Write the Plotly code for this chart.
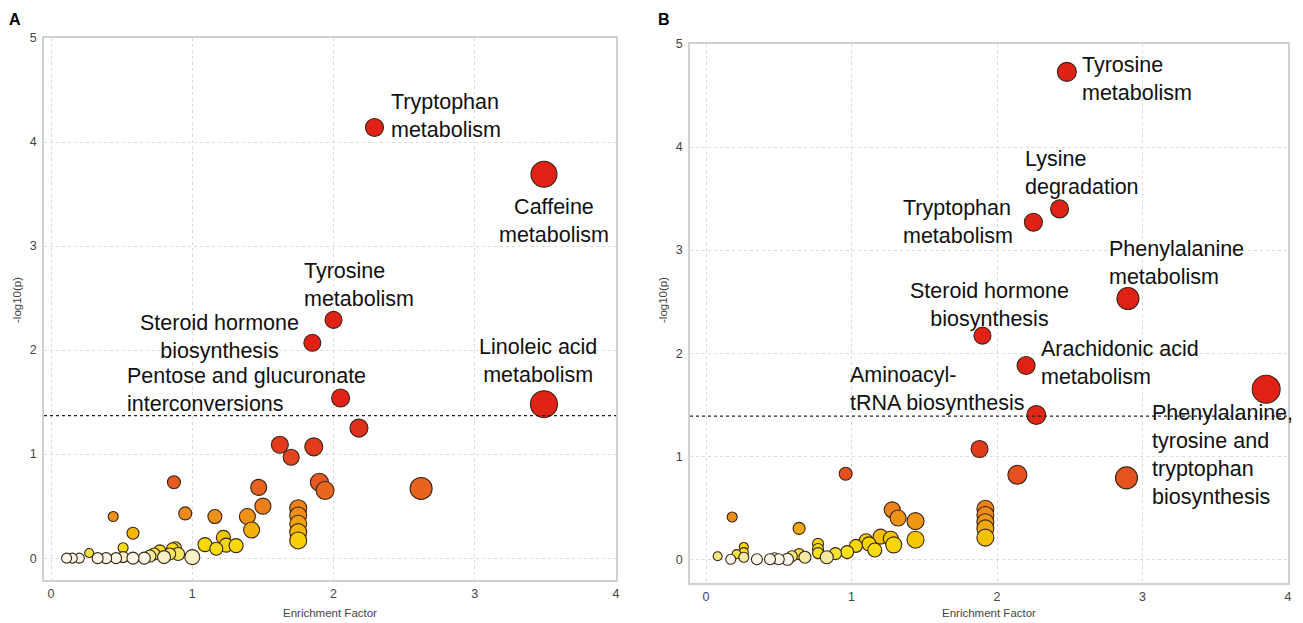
import numpy as np
import plotly.graph_objects as go

# ---------------- Panel A data ----------------
a_x = [2.29, 3.49, 2.00, 1.85, 2.05, 3.49,
       2.18, 1.62, 1.70, 1.86, 1.90, 1.94, 2.62, 0.87, 0.44, 0.58, 0.95, 1.16,
       1.47, 1.50, 1.39, 1.42, 1.75, 1.75, 1.75, 1.75, 1.75,
       1.09, 1.17, 1.22, 1.24, 1.31, 1.00, 0.90, 0.86, 0.84, 0.80, 0.73, 0.77,
       0.70, 0.88, 0.66, 0.58, 0.51, 0.51, 0.46, 0.39, 0.33, 0.27, 0.20, 0.15, 0.11]
a_y = [4.14, 3.69, 2.29, 2.07, 1.54, 1.48,
       1.25, 1.09, 0.97, 1.07, 0.73, 0.65, 0.67, 0.73, 0.40, 0.24, 0.43, 0.40,
       0.68, 0.50, 0.40, 0.27, 0.48, 0.41, 0.33, 0.25, 0.17,
       0.13, 0.09, 0.20, 0.125, 0.12, 0.01, 0.04, 0.09, 0.04, 0.01, 0.04, 0.07,
       0.02, 0.10, 0.00, 0.00, 0.10, 0.01, 0.00, 0.00, 0.00, 0.05, 0.00, 0.00, 0.00]
a_size = [18, 26, 17, 17, 18, 27,
          18, 17, 16, 18, 18, 18, 22, 13, 10, 12, 13, 14,
          16, 16, 16, 16, 17, 17, 17, 17, 17,
          14, 13, 14, 14, 14, 15, 13, 12, 12, 13, 12, 12,
          12, 12, 12, 12, 10, 11, 11, 11, 11, 9, 10, 10, 10]
a_labels = ["Tryptophan<br>metabolism", "Caffeine<br>metabolism",
            "Tyrosine<br>metabolism", "Steroid hormone<br>biosynthesis",
            "Pentose and glucuronate<br>interconversions",
            "Linoleic acid<br>metabolism"]
a_threshold = 1.37

# ---------------- Panel B data ----------------
b_x = [2.48, 2.43, 2.25, 2.90, 1.90, 2.20, 2.27, 3.85,
       1.88, 2.14, 2.89, 1.92, 1.92, 1.92, 1.92, 1.92, 0.96, 0.18, 0.64,
       1.28, 1.32, 1.44, 1.44, 1.29, 1.27, 1.20, 1.16, 1.12, 1.10, 1.03,
       0.97, 0.89, 0.83, 0.77, 0.77, 0.77, 0.68, 0.64, 0.59, 0.56, 0.50,
       0.47, 0.44, 0.35, 0.26, 0.26, 0.26, 0.21, 0.17, 0.08]
b_y = [4.73, 3.40, 3.27, 2.53, 2.17, 1.88, 1.40, 1.65,
       1.07, 0.82, 0.79, 0.49, 0.43, 0.36, 0.30, 0.21, 0.83, 0.41, 0.30,
       0.48, 0.40, 0.37, 0.19, 0.14, 0.20, 0.22, 0.09, 0.15, 0.18, 0.13,
       0.07, 0.055, 0.02, 0.15, 0.10, 0.06, 0.02, 0.05, 0.03, 0.00, 0.00,
       0.01, 0.00, 0.00, 0.12, 0.07, 0.02, 0.05, 0.00, 0.03]
b_size = [19, 18, 18, 22, 17, 18, 19, 28,
          17, 19, 22, 17, 17, 17, 17, 17, 13, 10, 12,
          16, 16, 17, 17, 16, 15, 15, 14, 14, 14, 13,
          13, 12, 13, 11, 11, 11, 12, 11, 11, 12, 11,
          11, 11, 11, 9, 9, 10, 9, 10, 9]
b_labels = ["Tyrosine<br>metabolism", "Lysine<br>degradation",
            "Tryptophan<br>metabolism", "Phenylalanine<br>metabolism",
            "Steroid hormone<br>biosynthesis", "Arachidonic acid<br>metabolism",
            "Aminoacyl-<br>tRNA biosynthesis",
            "Phenylalanine,<br>tyrosine and<br>tryptophan<br>biosynthesis"]
b_threshold = 1.39

x_ticks = [0, 1, 2, 3, 4]
y_ticks = [0, 1, 2, 3, 4, 5]

# ---------------- styling ----------------
W, H = 1303, 623
colorscale = [[0, '#fbf8ea'], [0.006, '#f6f0c8'], [0.02, '#f2e680'],
              [0.04, '#f6e21a'], [0.1, '#f7d400'], [0.16, '#f4b806'],
              [0.22, '#f0a010'], [0.3, '#ec861c'], [0.4, '#e8701e'],
              [0.5, '#e5561e'], [0.7, '#e23c1c'], [1, '#e02216']]

# label placement: (xanchor, align, xshift, yshift) in pixels relative to point
a_label_pos = [("left", "left", 15, 11), ("center", "center", 10, -47),
               ("left", "left", -32, 35), ("center", "center", -93, 6),
               ("left", "left", -216, 8), ("center", "center", -6, 43)]
b_label_pos = [("left", "left", 13, -7), ("left", "left", -37, 36),
               ("right", "left", -18, 0), ("left", "left", -21, 36),
               ("center", "center", 7, 31), ("left", "left", 13, 3),
               ("right", "left", -10, 26), ("left", "left", -116, -66)]

fig = go.Figure()


def add_panel(xs, ys, ss, xa, ya):
    xs, ys, ss = np.array(xs), np.array(ys), np.array(ss)
    order = np.argsort(-ys, kind="stable")
    fig.add_trace(go.Scatter(
        x=xs[order], y=ys[order], mode="markers", xaxis=xa, yaxis=ya,
        showlegend=False, hoverinfo="x+y",
        marker=dict(size=ss[order], color=ys[order], colorscale=colorscale,
                    cmin=0, cmax=1.5, opacity=1,
                    line=dict(color="#3a2418", width=1.1))))


add_panel(a_x, a_y, a_size, "x", "y")
add_panel(b_x, b_y, b_size, "x2", "y2")

axis_common = dict(showgrid=True, gridcolor="#dcdcdc", griddash="dot",
                   gridwidth=1, zeroline=False, showline=True,
                   linecolor="#d2d2d2", linewidth=1.5, mirror=True,
                   ticks="", tickfont=dict(family="Liberation Sans", size=12.5,
                                           color="#444"),
                   automargin=False, fixedrange=True)

fig.update_layout(
    template="none", width=W, height=H,
    margin=dict(l=0, r=0, t=0, b=0),
    paper_bgcolor="white", plot_bgcolor="white",
    xaxis=dict(domain=[44 / W, 616 / W], range=[-0.05, 4], anchor="y",
               tickvals=x_ticks, ticklabelstandoff=1, **axis_common),
    yaxis=dict(domain=[1 - 580 / H, 1 - 38 / H], range=[-0.21, 5], anchor="x",
               tickvals=y_ticks, ticklabelstandoff=3, **axis_common),
    xaxis2=dict(domain=[690 / W, 1288 / W], range=[-0.11, 4], anchor="y2",
                tickvals=x_ticks, ticklabelstandoff=1, **axis_common),
    yaxis2=dict(domain=[1 - 583 / H, 1 - 44 / H], range=[-0.23, 5], anchor="x2",
                tickvals=y_ticks, ticklabelstandoff=3, **axis_common),
)

# threshold lines
for xr, yr, th in [("x domain", "y", a_threshold), ("x2 domain", "y2", b_threshold)]:
    fig.add_shape(type="line", xref=xr, yref=yr, x0=0, x1=1, y0=th, y1=th,
                  line=dict(color="#222", width=1.2, dash="dot"), layer="above")

label_font = dict(family="Liberation Sans", size=21.5, color="#111")
for lbl, pos, px, py in zip(a_labels, a_label_pos, a_x, a_y):
    xanc, al, dx, dy = pos
    fig.add_annotation(x=px, y=py, xref="x", yref="y", text=lbl, showarrow=False,
                       xanchor=xanc, yanchor="middle", align=al, xshift=dx,
                       yshift=dy, font=label_font)
for lbl, pos, px, py in zip(b_labels, b_label_pos, b_x, b_y):
    xanc, al, dx, dy = pos
    fig.add_annotation(x=px, y=py, xref="x2", yref="y2", text=lbl, showarrow=False,
                       xanchor=xanc, yanchor="middle", align=al, xshift=dx,
                       yshift=dy, font=label_font)

# axis titles
title_font = dict(family="Liberation Sans", size=11.5, color="#444")
for xr in ["x domain", "x2 domain"]:
    fig.add_annotation(x=0.5, xref=xr, y=1 - 613 / H, yref="paper",
                       text="Enrichment Factor", showarrow=False,
                       xanchor="center", yanchor="middle", font=title_font)
for xp, yc in [(17, 300), (663, 300)]:
    fig.add_annotation(x=xp / W, xref="paper", y=1 - yc / H, yref="paper",
                       text="-log10(p)", showarrow=False, textangle=-90,
                       xanchor="center", yanchor="middle", font=title_font)

# panel letters
for txt, xp in [("A", 15), ("B", 664)]:
    fig.add_annotation(x=xp / W, xref="paper", y=1 - 20 / H, yref="paper",
                       text="<b>" + txt + "</b>", showarrow=False,
                       xanchor="center", yanchor="middle",
                       font=dict(family="Liberation Sans", size=16, color="#000"))

fig.write_html("out.html", config={"displayModeBar": False},
               post_script="document.body.style.margin='0';"
                           "document.body.style.overflow='hidden';")
